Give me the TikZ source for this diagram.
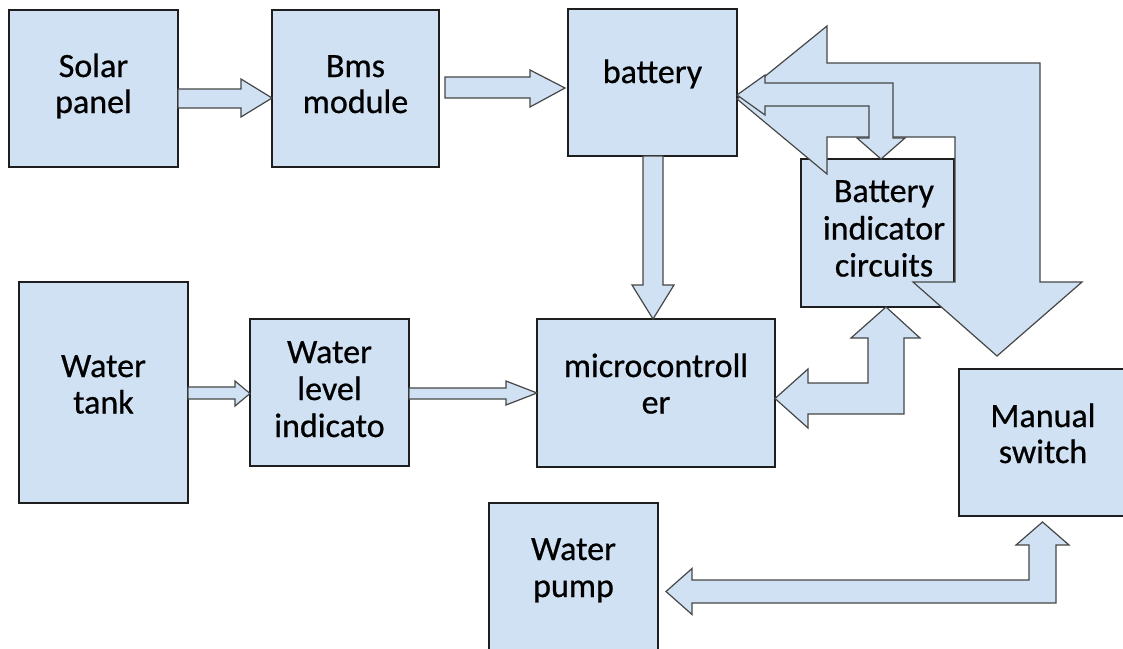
\documentclass[tikz,border=0pt]{standalone}
\usepackage{fontspec}
\setmainfont{Carlito}[FakeBold=0.6]
\definecolor{boxfill}{RGB}{207,225,242}
\definecolor{edge}{RGB}{30,30,30}
\definecolor{arredge}{RGB}{70,70,70}
\begin{document}
\begin{tikzpicture}[x=1pt,y=-1pt,
  blk/.style={draw=edge,fill=boxfill,line width=1.3pt,inner sep=0pt,outer sep=0pt,rectangle},
  blockarrow/.style={draw=arredge,fill=boxfill,line width=1.2pt,line join=miter},
  txt/.style={font=\fontsize{34}{40}\selectfont,anchor=base,inner sep=0pt,text=black}]
\useasboundingbox (0,0) rectangle (1123,648);
\clip (0,0) rectangle (1123,648);
\fill[white] (0,0) rectangle (1123,648);

% boxes
\node[blk,minimum width=169,minimum height=157] (solar) at (93.5,88.5) {};
\node[blk,minimum width=167,minimum height=157] (bms) at (355.5,88.5) {};
\node[blk,minimum width=169,minimum height=147] (battery) at (652.5,82.5) {};
\node[blk,minimum width=169,minimum height=221] (tank) at (103.5,392.5) {};
\node[blk,minimum width=159,minimum height=147] (wli) at (329.5,392.5) {};
\node[blk,minimum width=238,minimum height=148] (micro) at (656,393) {};
\node[blk,minimum width=153,minimum height=148] (bic) at (877.5,233) {};
\node[blk,minimum width=169,minimum height=147] (manual) at (1043.5,442.5) {};
\node[blk,minimum width=169,minimum height=170] (pump) at (573.5,588) {};

% texts
\node[txt] (t1a) at (93.5,77) {Solar};
\node[txt] (t1b) at (93.5,113) {panel};
\node[txt] (t2a) at (355.5,77) {Bms};
\node[txt] (t2b) at (355.5,113) {module};
\node[txt] (t3) at (652.5,83) {battery};
\node[txt] (t4a) at (103.5,377) {Water};
\node[txt] (t4b) at (103.5,413.5) {tank};
\node[txt] (t5a) at (329.5,363) {Water};
\node[txt] (t5b) at (329.5,400) {level};
\node[txt] (t5c) at (329.5,437) {indicato};
\node[txt] (t6a) at (656,377) {microcontroll};
\node[txt] (t6b) at (656,413.5) {er};
\node[txt] (t8a) at (1043,427) {Manual};
\node[txt] (t8b) at (1043,463) {switch};
\node[txt] (t9a) at (573.5,560) {Water};
\node[txt] (t9b) at (573.5,597) {pump};

% big arrow: battery indicator circuits side -> battery and -> manual switch
\draw[blockarrow] (battery.east |- 0,99) -- (827,26) -- (827,63) -- (1040,63) -- (1040,282)
  -- (1082,282) -- (997,356) -- (913,282) -- (955,282) -- (955,137) -- (827,137) -- (827,174) -- cycle;

% small L arrow: battery <-> battery indicator circuits
\draw[blockarrow] (battery.east |- 0,95) -- (765,75) -- (765,83) -- (893,83) -- (893,138)
  -- (905,138) -- (bic.north -| 881,0) -- (857,138) -- (869,138) -- (869,106) -- (765,106) -- (765,115) -- cycle;

% texts of battery indicator circuits (drawn over arrows)
\node[txt] (t7a) at (884,202) {Battery};
\node[txt] (t7b) at (884,239.5) {indicator};
\node[txt] (t7c) at (884,276.5) {circuits};

% straight arrows
\draw[blockarrow] (solar.east |- 0,89) -- (241,89) -- (241,79) -- (bms.west |- 0,98)
  -- (241,117) -- (241,108) -- (solar.east |- 0,108) -- cycle;
\draw[blockarrow] (445,77) -- (530,77) -- (530,70) -- (565,88) -- (530,107) -- (530,98) -- (445,98) -- cycle;
\draw[blockarrow] (battery.south -| 643,0) -- (643,285) -- (632,285) -- (micro.north -| 653,0)
  -- (674,285) -- (663,285) -- (battery.south -| 663,0) -- cycle;
\draw[blockarrow] (tank.east |- 0,387) -- (235,387) -- (235,381) -- (wli.west |- 0,393.5)
  -- (235,406) -- (235,399) -- (tank.east |- 0,399) -- cycle;
\draw[blockarrow] (wli.east |- 0,388) -- (506,388) -- (506,381) -- (micro.west |- 0,393)
  -- (506,405) -- (506,399) -- (wli.east |- 0,399) -- cycle;

% microcontroller <-> battery indicator circuits
\draw[blockarrow] (micro.east |- 0,398.5) -- (808,369) -- (808,383) -- (868,383) -- (868,338)
  -- (851,338) -- (bic.south -| 886,0) -- (920,338) -- (904,338) -- (904,414) -- (808,414) -- (808,428) -- cycle;

% manual switch <-> water pump
\draw[blockarrow] (666,591.5) -- (692,568.5) -- (692,580) -- (1029,580) -- (1029,545)
  -- (1016,545) -- (1042.5,522) -- (1069,545) -- (1056,545) -- (1056,603) -- (692,603) -- (692,614.5) -- cycle;
\end{tikzpicture}
\end{document}
